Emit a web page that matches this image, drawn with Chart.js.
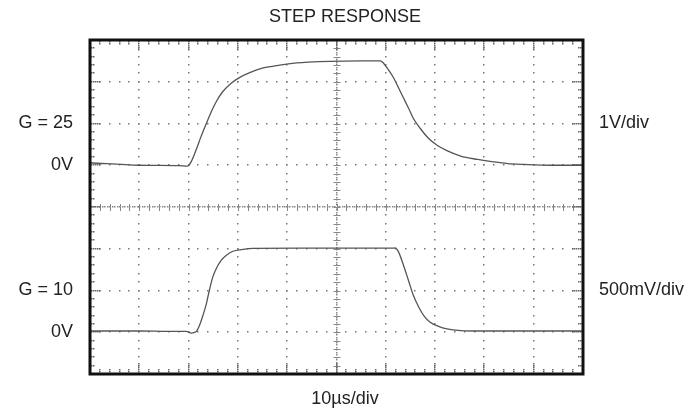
<!DOCTYPE html>
<html>
<head>
<meta charset="utf-8">
<script src="https://cdn.jsdelivr.net/npm/chart.js@4/dist/chart.umd.min.js"></script>
<style>
  html, body { margin: 0; padding: 0; background: #fff; }
  canvas { display: block; }
</style>
</head>
<body>
<canvas id="scope" width="698" height="410"></canvas>
<script>
// time in divisions (10us/div), level in divisions from screen centre
const topTime = [0, 1.0, 1.81, 1.98, 2.05, 2.15, 2.25, 2.36, 2.46, 2.56, 2.69, 2.87, 3.03, 3.24, 3.51, 3.85, 4.19, 4.43, 4.87, 5.48, 5.89, 5.95, 6.05, 6.16, 6.26, 6.36, 6.46, 6.56, 6.70, 6.87, 7.04, 7.24, 7.52, 7.86, 8.19, 8.47, 8.80, 9.35, 10];
const topLevel = [1.06, 1.0, 0.99, 0.98, 1.08, 1.36, 1.68, 2.0, 2.28, 2.52, 2.76, 2.97, 3.10, 3.22, 3.33, 3.40, 3.45, 3.47, 3.49, 3.50, 3.50, 3.45, 3.29, 3.09, 2.85, 2.61, 2.37, 2.12, 1.88, 1.64, 1.48, 1.35, 1.22, 1.14, 1.08, 1.04, 1.02, 1.0, 1.0];

const botTime = [0, 1.0, 1.61, 1.95, 2.05, 2.15, 2.22, 2.29, 2.36, 2.42, 2.49, 2.56, 2.66, 2.76, 2.90, 3.07, 3.31, 4.26, 5.27, 6.16, 6.19, 6.26, 6.36, 6.46, 6.56, 6.67, 6.77, 6.90, 7.07, 7.24, 7.52, 7.92, 10];
const botLevel = [-2.97, -2.97, -2.98, -2.98, -3.02, -2.99, -2.84, -2.60, -2.32, -2.0, -1.68, -1.48, -1.28, -1.16, -1.06, -1.02, -0.99, -0.985, -0.985, -0.985, -0.98, -1.08, -1.40, -1.76, -2.12, -2.40, -2.60, -2.76, -2.86, -2.92, -2.96, -2.97, -2.97];

const xDivs = [0, 10];
const yDivs = [-4, 4];
const leftLabels = ['G = 25', '0V', 'G = 10', '0V'];
const leftLevels = [2, 1, -2, -3];
const rightLabels = ['1V/div', '500mV/div'];
const rightLevels = [2, -2];
const titleText = 'STEP RESPONSE';
const timeLabel = '10\u00b5s/div';

const FONT = '18px "Liberation Sans", Arial, Helvetica, sans-serif';
const INK = '#222';

const toPoints = (xs, ys) => xs.map((x, i) => ({ x, y: ys[i] }));

const scopeGrid = {
  id: 'scopeGrid',
  beforeDatasetsDraw(chart){
    const { ctx, chartArea: a, scales: { x, y } } = chart;
    const dot = (px, py, c) => { ctx.fillStyle = c; ctx.fillRect(Math.round(px) - 1, Math.round(py) - 1, 1.5, 1.5); };
    ctx.save();
    // dotted graticule
    for (let i = xDivs[0] + 1; i < xDivs[1]; i++){
      if (i === 5) continue;
      const px = x.getPixelForValue(i);
      for (let m = yDivs[0] * 5; m <= yDivs[1] * 5; m++) dot(px, y.getPixelForValue(m / 5), '#777');
    }
    for (let j = yDivs[0] + 1; j < yDivs[1]; j++){
      if (j === 0) continue;
      const py = y.getPixelForValue(j);
      for (let m = xDivs[0] * 5; m <= xDivs[1] * 5; m++) dot(x.getPixelForValue(m / 5), py, '#777');
    }
    // centre crosshair
    const cx = x.getPixelForValue(5), cy = y.getPixelForValue(0);
    for (let px = a.left; px <= a.right; px += 2.5) dot(px, cy, '#888');
    for (let py = a.top; py <= a.bottom; py += 2.5) dot(cx, py, '#888');
    ctx.strokeStyle = '#888';
    ctx.lineWidth = 1;
    ctx.beginPath();
    for (let m = xDivs[0] * 5 + 1; m < xDivs[1] * 5; m++){
      const px = Math.round(x.getPixelForValue(m / 5)) + 0.5;
      ctx.moveTo(px, cy - 3); ctx.lineTo(px, cy + 4);
    }
    for (let m = yDivs[0] * 5 + 1; m < yDivs[1] * 5; m++){
      const py = Math.round(y.getPixelForValue(m / 5)) + 0.5;
      ctx.moveTo(cx - 3, py); ctx.lineTo(cx + 4, py);
    }
    ctx.stroke();
    // edge ticks
    for (let m = yDivs[0] * 5; m <= yDivs[1] * 5; m++){
      const py = y.getPixelForValue(m / 5);
      const len = m % 5 === 0 ? 10 : 3;
      for (let k = 2; k < 2 + len; k += 2){ dot(a.left + k, py, '#666'); dot(a.right - k, py, '#666'); }
    }
    for (let m = xDivs[0] * 5; m <= xDivs[1] * 5; m++){
      const px = x.getPixelForValue(m / 5);
      const len = m % 5 === 0 ? 10 : 3;
      for (let k = 2; k < 2 + len; k += 2){ dot(px, a.top + k, '#666'); dot(px, a.bottom - k, '#666'); }
    }
    ctx.restore();
  },
  afterDraw(chart){
    const { ctx, chartArea: a, scales: { y } } = chart;
    ctx.save();
    ctx.strokeStyle = '#111';
    ctx.lineWidth = 3;
    ctx.strokeRect(a.left, a.top, a.right - a.left, a.bottom - a.top);

    ctx.fillStyle = INK;
    ctx.font = FONT;
    ctx.textBaseline = 'middle';
    ctx.textAlign = 'right';
    leftLabels.forEach((t, i) => ctx.fillText(t, 73, y.getPixelForValue(leftLevels[i])));
    ctx.textAlign = 'left';
    rightLabels.forEach((t, i) => ctx.fillText(t, 599, y.getPixelForValue(rightLevels[i])));
    ctx.textAlign = 'center';
    ctx.textBaseline = 'alphabetic';
    ctx.fillText(titleText, 345, 22);
    ctx.fillText(timeLabel, 345, 404);
    ctx.restore();
  }
};

const traceStyle = {
  borderColor: '#555',
  borderWidth: 1.3,
  pointRadius: 0,
  fill: false,
  cubicInterpolationMode: 'monotone'
};

new Chart(document.getElementById('scope'), {
  type: 'line',
  data: {
    datasets: [
      Object.assign({ label: 'G = 25', data: toPoints(topTime, topLevel) }, traceStyle),
      Object.assign({ label: 'G = 10', data: toPoints(botTime, botLevel) }, traceStyle)
    ]
  },
  options: {
    responsive: false,
    devicePixelRatio: 1,
    animation: false,
    layout: { padding: { left: 90, right: 115, top: 40, bottom: 36 } },
    plugins: { legend: { display: false }, tooltip: { enabled: false } },
    scales: {
      x: { type: 'linear', min: xDivs[0], max: xDivs[1], display: false },
      y: { type: 'linear', min: yDivs[0], max: yDivs[1], display: false }
    }
  },
  plugins: [scopeGrid]
});
</script>
</body>
</html>
